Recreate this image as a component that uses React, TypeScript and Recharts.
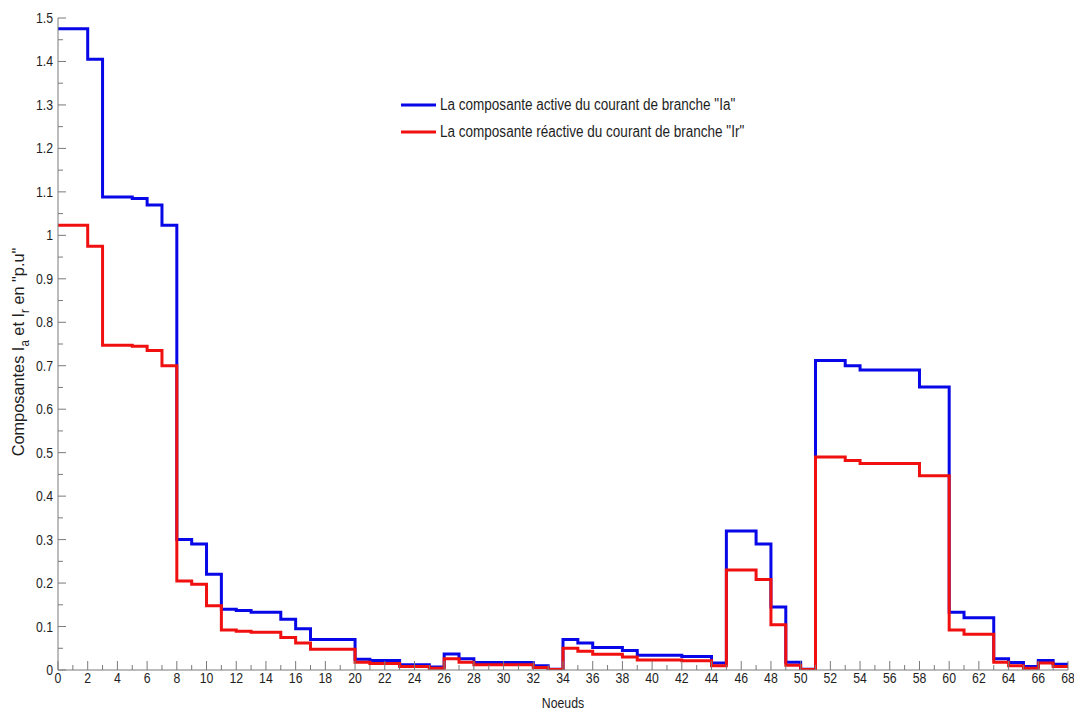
import React from "react";
import { LineChart, Line, XAxis, YAxis } from "recharts";

// Node numbers along the feeder (0 .. 68)
const NODES: number[] = Array.from({ length: 69 }, (_, i) => i);

// Active branch current Ia (p.u) on each branch [k, k+1]
const IA: number[] = [
  1.475, 1.475, 1.405, 1.088, 1.088, 1.085, 1.07, 1.023, 0.3, 0.29,
  0.22, 0.14, 0.137, 0.133, 0.133, 0.117, 0.095, 0.07, 0.07, 0.07,
  0.025, 0.022, 0.022, 0.012, 0.012, 0.007, 0.037, 0.026, 0.017, 0.017,
  0.017, 0.017, 0.01, 0.002, 0.07, 0.062, 0.052, 0.052, 0.045, 0.034,
  0.034, 0.034, 0.031, 0.031, 0.016, 0.32, 0.32, 0.29, 0.145, 0.018,
  0.002, 0.712, 0.712, 0.7, 0.69, 0.69, 0.69, 0.69, 0.651, 0.651,
  0.133, 0.12, 0.12, 0.026, 0.017, 0.008, 0.022, 0.013,
];

// Reactive branch current Ir (p.u) on each branch [k, k+1]
const IR: number[] = [
  1.023, 1.023, 0.975, 0.747, 0.747, 0.745, 0.735, 0.7, 0.205, 0.197,
  0.148, 0.092, 0.089, 0.087, 0.087, 0.075, 0.062, 0.048, 0.048, 0.048,
  0.018, 0.015, 0.015, 0.008, 0.008, 0.004, 0.026, 0.018, 0.012, 0.012,
  0.012, 0.012, 0.006, 0.001, 0.05, 0.043, 0.036, 0.036, 0.03, 0.023,
  0.023, 0.023, 0.021, 0.021, 0.01, 0.23, 0.23, 0.208, 0.104, 0.011,
  0.001, 0.49, 0.49, 0.482, 0.475, 0.475, 0.475, 0.475, 0.447, 0.447,
  0.092, 0.082, 0.082, 0.018, 0.01, 0.004, 0.016, 0.008,
];

// Axis ticks: every node on x (labels on even ones), every 0.05 on y (labels on 0.1)
const X_TICKS: number[] = NODES;
const Y_TICKS: number[] = [
  0, 0.05, 0.1, 0.15, 0.2, 0.25, 0.3, 0.35, 0.4, 0.45, 0.5, 0.55, 0.6, 0.65,
  0.7, 0.75, 0.8, 0.85, 0.9, 0.95, 1, 1.05, 1.1, 1.15, 1.2, 1.25, 1.3, 1.35,
  1.4, 1.45, 1.5,
];

const LEGEND_IA = 'La composante active du courant de branche "Ia"';
const LEGEND_IR = 'La composante réactive du courant de branche "Ir"';

const BLUE = "#0707e8";
const RED = "#f01010";
const AXIS = "#7a7a7a";
const TEXT = "#1e1e1e";
const FONT = "'Liberation Sans', Arial, sans-serif";
// Narrow lettering: regular glyphs squeezed horizontally
const SQUEEZE = 0.82;

// Step data: the value of branch k is held from node k to node k+1
const data = NODES.map((node) => ({
  node,
  ia: IA[Math.min(node, IA.length - 1)],
  ir: IR[Math.min(node, IR.length - 1)],
}));

const NarrowText = ({ x, y, anchor, size, children }: any) => (
  <text
    transform={`translate(${x},${y}) scale(${SQUEEZE},1)`}
    x={0}
    y={0}
    textAnchor={anchor}
    fontFamily={FONT}
    fontSize={size}
    fill={TEXT}
  >
    {children}
  </text>
);

const XTick = (props: any) => {
  const { x, y, payload } = props;
  const v = payload.value as number;
  const major = v % 2 === 0;
  return (
    <g>
      <line x1={x} y1={y} x2={x} y2={y - (major ? 9 : 5)} stroke={AXIS} strokeWidth={1} />
      {major && (
        <NarrowText x={x} y={y + 13} anchor="middle" size={15}>
          {v}
        </NarrowText>
      )}
    </g>
  );
};

const YTick = (props: any) => {
  const { x, y, payload } = props;
  const v = payload.value as number;
  const hundredths = Math.round(v * 100);
  const major = hundredths % 10 === 0;
  return (
    <g>
      <line x1={x} y1={y} x2={x + (major ? 8 : 5)} y2={y} stroke={AXIS} strokeWidth={1} />
      {major && (
        <NarrowText x={x - 5} y={y + 5} anchor="end" size={15}>
          {String(hundredths / 100)}
        </NarrowText>
      )}
    </g>
  );
};

const YTitle = (props: any) => {
  const vb = props.viewBox || { x: 0, y: 0, width: 0, height: 0 };
  const cx = vb.x + 11;
  const cy = vb.y + vb.height / 2 + 8;
  return (
    <text
      transform={`translate(${cx},${cy}) rotate(-90) scale(0.96,1)`}
      x={0}
      y={0}
      textAnchor="middle"
      fontFamily={FONT}
      fontSize={17}
      fill={TEXT}
    >
      <tspan>Composantes I</tspan>
      <tspan fontSize={12} dy={5}>a</tspan>
      <tspan dy={-5}> et I</tspan>
      <tspan fontSize={12} dy={5}>r</tspan>
      <tspan dy={-5}> en "p.u"</tspan>
    </text>
  );
};

const XTitle = (props: any) => {
  const vb = props.viewBox || { x: 0, y: 0, width: 0, height: 0 };
  return (
    <NarrowText x={vb.x + vb.width / 2} y={vb.y + 38} anchor="middle" size={15}>
      Noeuds
    </NarrowText>
  );
};

const LegendBox = () => {
  const rows = [
    { color: BLUE, label: LEGEND_IA },
    { color: RED, label: LEGEND_IR },
  ];
  return (
    <div
      style={{
        position: "absolute",
        left: 393,
        top: 83,
        fontFamily: FONT,
        fontSize: 16,
        color: TEXT,
      }}
    >
      {rows.map((r) => (
        <div key={r.label} style={{ display: "flex", alignItems: "center", height: 27 }}>
          <svg width={36} height={6} style={{ display: "block" }}>
            <line x1={0} y1={3} x2={35} y2={3} stroke={r.color} strokeWidth={3} />
          </svg>
          <span
            style={{
              marginLeft: 3,
              whiteSpace: "nowrap",
              display: "inline-block",
              transform: "scaleX(0.845)",
              transformOrigin: "left center",
            }}
          >
            {r.label}
          </span>
        </div>
      ))}
    </div>
  );
};

export default function App() {
  return (
    <div style={{ position: "relative", width: 1074, height: 708, background: "#fff" }}>
      <LineChart
        width={1074}
        height={708}
        data={data}
        margin={{ top: 10, right: 14, bottom: 6, left: 5 }}
      >
        <XAxis
          type="number"
          dataKey="node"
          domain={[0, 68]}
          ticks={X_TICKS}
          interval={0}
          tickSize={0}
          tickMargin={0}
          tick={<XTick />}
          axisLine={{ stroke: AXIS, strokeWidth: 1 }}
          tickLine={false}
          height={40}
          allowDataOverflow
          label={{ content: <XTitle /> } as any}
        />
        <YAxis
          type="number"
          domain={[0, 1.5]}
          ticks={Y_TICKS}
          interval={0}
          tickSize={0}
          tickMargin={0}
          tick={<YTick />}
          axisLine={{ stroke: AXIS, strokeWidth: 1 }}
          tickLine={false}
          width={45}
          allowDataOverflow
          label={{ content: <YTitle /> } as any}
        />
        <Line
          type="stepAfter"
          dataKey="ia"
          stroke={BLUE}
          strokeWidth={3}
          dot={false}
          isAnimationActive={false}
        />
        <Line
          type="stepAfter"
          dataKey="ir"
          stroke={RED}
          strokeWidth={3}
          dot={false}
          isAnimationActive={false}
        />
      </LineChart>
      <LegendBox />
    </div>
  );
}
